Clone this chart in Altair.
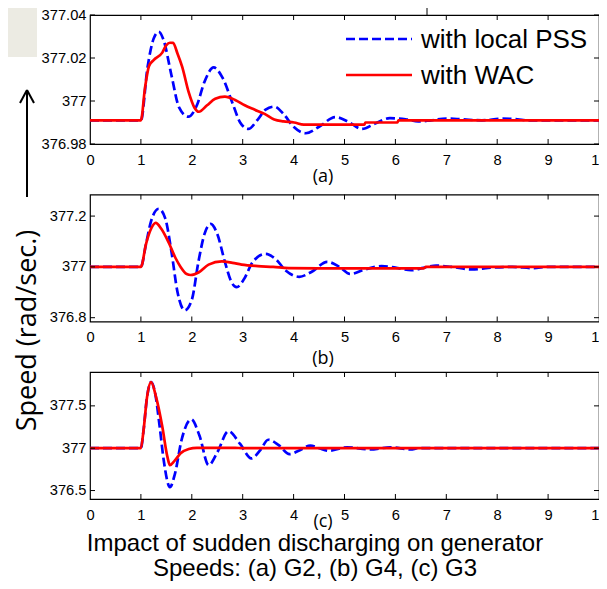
import altair as alt
import pandas as pd

# ---------------- data ----------------
SERIES = ["with local PSS", "with WAC"]
PANEL_LABELS = ["(a)", "(b)", "(c)"]
X_TICKS = [0, 1, 2, 3, 4, 5, 6, 7, 8, 9, 10]

# Panel (a)  G2
t_a_pss = [0, 1.0, 1.13, 1.25, 1.35, 1.45, 1.6, 1.75, 1.93, 2.1, 2.25, 2.43, 2.6, 2.8, 2.95, 3.11,
           3.3, 3.45, 3.62, 3.8, 4.0, 4.24, 4.5, 4.82, 5.1, 5.34, 5.6, 5.89, 6.2, 6.45, 6.7, 7.0,
           7.3, 7.7, 8.1, 8.4, 8.6, 10]
v_a_pss = [376.991, 376.991, 377.0156, 377.029, 377.0322, 377.028, 377.012, 376.997, 376.9927,
           376.998, 377.009, 377.0156, 377.011, 376.999, 376.990, 376.987, 376.9915, 376.996,
           376.9974, 376.994, 376.988, 376.985, 376.988, 376.9925, 376.990, 376.987, 376.9895,
           376.992, 376.9915, 376.9905, 376.991, 376.9918, 376.9915, 376.991, 376.9918, 376.9915,
           376.991, 376.991]
t_a_wac = [0, 1.0, 1.08, 1.16, 1.25, 1.42, 1.5, 1.57, 1.63, 1.72, 1.81, 1.94, 2.05, 2.14, 2.3, 2.46,
           2.65, 2.85, 3.04, 3.23, 3.43, 3.62, 3.8, 4.01, 4.2, 5.39, 5.41, 6.04, 6.06, 10]
v_a_wac = [376.991, 376.991, 377.006, 377.0163, 377.019, 377.0225, 377.026, 377.0271, 377.027,
           377.022, 377.016, 377.004, 376.997, 376.995, 376.998, 377.001, 377.002, 377.0005,
           376.998, 376.996, 376.994, 376.9914, 376.9905, 376.990, 376.989, 376.989, 376.990,
           376.990, 376.991, 376.991]

# Panel (b)  G4
t_b_pss = [0, 1, 1.1, 1.2, 1.35, 1.48, 1.6, 1.72, 1.86, 2.0, 2.13, 2.25, 2.37, 2.5, 2.65, 2.78, 2.88,
           3.02, 3.2, 3.45, 3.65, 3.85, 4.11, 4.35, 4.66, 4.9, 5.11, 5.4, 5.73, 6.0, 6.31, 6.55, 6.8,
           7.1, 7.5, 7.9, 8.3, 8.7, 9.0, 10]
v_b_pss = [377, 377, 377.09, 377.18, 377.229, 377.19, 377.06, 376.90, 376.829, 376.87, 377.02,
           377.13, 377.169, 377.13, 377.02, 376.94, 376.92, 376.95, 377.02, 377.051, 377.03, 376.985,
           376.961, 376.98, 377.02, 377.0, 376.972, 376.99, 377.003, 376.997, 376.987, 376.996,
           377.005, 377.0, 376.99, 376.997, 377.0, 376.995, 377.0, 377.0]
t_b_wac = [0, 1, 1.1, 1.2, 1.29, 1.4, 1.55, 1.68, 1.78, 1.9, 1.98, 2.14, 2.33, 2.59, 2.8, 2.98, 3.3,
           3.6, 3.9, 4.5, 6.55, 6.6, 10]
v_b_wac = [377, 377, 377.09, 377.15, 377.173, 377.15, 377.094, 377.035, 377.0, 376.972, 376.968,
           376.979, 377.009, 377.022, 377.016, 377.009, 377.003, 377.0, 376.995, 376.994, 376.994,
           377.0, 377.0]

# Panel (c)  G3
t_c_pss = [0, 1, 1.05, 1.12, 1.2, 1.28, 1.37, 1.45, 1.57, 1.67, 1.8, 1.99, 2.15, 2.33, 2.5, 2.72,
           2.95, 3.17, 3.35, 3.5, 3.7, 3.92, 4.1, 4.33, 4.5, 4.69, 5.05, 5.5, 5.9, 6.3, 6.45, 10]
v_c_pss = [377, 377, 377.2, 377.6, 377.78, 377.65, 377.25, 376.85, 376.54, 376.7, 377.1, 377.34,
           377.15, 376.80, 376.95, 377.20, 377.05, 376.88, 376.98, 377.10, 377.04, 376.93, 376.97,
           377.03, 377.0, 376.97, 377.01, 376.985, 377.01, 376.985, 377.0, 377.0]
t_c_wac = [0, 1, 1.05, 1.12, 1.2, 1.3, 1.42, 1.52, 1.57, 1.66, 1.78, 1.94, 2.1, 2.85, 3.0, 10]
v_c_wac = [377, 377, 377.2, 377.6, 377.78, 377.6, 377.255, 376.90, 376.80, 376.85, 376.94, 376.99,
           377.005, 377.005, 377.0, 377.0]

W = 509
BLUE = "#0000ff"
RED = "#ff0000"
TICK_FONT = "Liberation Sans"


def panel(tp, vp, tw, vw, ydom, yvals, yfmt, h, label, label_y, extras):
    xs = alt.Scale(domain=[0, 10], nice=False, zero=False)
    ys = alt.Scale(domain=ydom, nice=False, zero=False)
    x_ax = alt.Axis(values=X_TICKS, ticks=False, domain=False, grid=False, title=None,
                    labelFont=TICK_FONT, labelFontSize=14.7, labelPadding=8,
                    labelColor="black", labelFlush=False)
    y_ax = alt.Axis(values=yvals, format=yfmt, ticks=False, domain=False, grid=False, title=None,
                    labelFont=TICK_FONT, labelFontSize=14.7, labelPadding=4,
                    labelColor="black", labelFlush=False)
    df_p = pd.DataFrame({"t": tp, "v": vp, "s": SERIES[0]})
    df_w = pd.DataFrame({"t": tw, "v": vw, "s": SERIES[1]})

    pss = alt.Chart(df_p).mark_line(color=BLUE, strokeWidth=2.7, strokeDash=[9, 4],
                                    interpolate="monotone").encode(
        x=alt.X("t:Q", scale=xs, axis=x_ax), y=alt.Y("v:Q", scale=ys, axis=y_ax))
    wac = alt.Chart(df_w).mark_line(color=RED, strokeWidth=2.7,
                                    interpolate="monotone").encode(
        x=alt.X("t:Q"), y=alt.Y("v:Q"))

    xt = alt.Chart(pd.DataFrame({"t": X_TICKS[1:-1]}))
    xb = xt.mark_rule(color="black", strokeWidth=1).encode(
        x="t:Q", y=alt.value(h), y2=alt.value(h - 5))
    xtop = xt.mark_rule(color="black", strokeWidth=1).encode(
        x="t:Q", y=alt.value(0), y2=alt.value(5))
    yt = alt.Chart(pd.DataFrame({"v": yvals}))
    yl = yt.mark_rule(color="black", strokeWidth=1).encode(
        y="v:Q", x=alt.value(0), x2=alt.value(5))
    yr = yt.mark_rule(color="black", strokeWidth=1).encode(
        y="v:Q", x=alt.value(W - 5), x2=alt.value(W))

    lab = alt.Chart(pd.DataFrame({"s": [label]})).mark_text(
        font="Open Sans", fontSize=18, color="black", align="center", baseline="middle").encode(
        text="s:N", x=alt.value(233), y=alt.value(label_y))

    return alt.layer(pss, wac, xb, xtop, yl, yr, lab, *extras).properties(width=W, height=h)


one = pd.DataFrame({"k": [0]})

# decorations of panel (a): grey corner, up arrow, legend
grey = alt.Chart(one).mark_rect(color="#ecebe3").encode(
    x=alt.value(-82), x2=alt.value(-53), y=alt.value(-7), y2=alt.value(42))
arrow_shaft = alt.Chart(one).mark_rule(color="black", strokeWidth=2).encode(
    x=alt.value(-63), x2=alt.value(-63), y=alt.value(76), y2=alt.value(182))
arrow_l = alt.Chart(one).mark_rule(color="black", strokeWidth=2).encode(
    x=alt.value(-63), x2=alt.value(-70), y=alt.value(75), y2=alt.value(88))
arrow_r = alt.Chart(one).mark_rule(color="black", strokeWidth=2).encode(
    x=alt.value(-63), x2=alt.value(-56), y=alt.value(75), y2=alt.value(88))
legbox = alt.Chart(one).mark_rule(color="black", strokeWidth=1).encode(
    x=alt.value(337), x2=alt.value(337), y=alt.value(-7), y2=alt.value(0))

leg_df = pd.DataFrame({"s": SERIES})
leg_pss_line = alt.Chart(leg_df).transform_filter(alt.datum.s == SERIES[0]).mark_rule(
    color=BLUE, strokeWidth=2.7, strokeDash=[9, 4]).encode(
    x=alt.value(256), x2=alt.value(322), y=alt.value(24))
leg_wac_line = alt.Chart(leg_df).transform_filter(alt.datum.s == SERIES[1]).mark_rule(
    color=RED, strokeWidth=2.7).encode(
    x=alt.value(256), x2=alt.value(322), y=alt.value(60))
leg_pss_txt = alt.Chart(leg_df).transform_filter(alt.datum.s == SERIES[0]).mark_text(
    font="Liberation Sans", fontSize=26, align="left", baseline="middle", color="black").encode(
    text="s:N", x=alt.value(331), y=alt.value(25))
leg_wac_txt = alt.Chart(leg_df).transform_filter(alt.datum.s == SERIES[1]).mark_text(
    font="Liberation Sans", fontSize=26, align="left", baseline="middle", color="black").encode(
    text="s:N", x=alt.value(331), y=alt.value(61))

# y-axis title (panel b)
ytitle = alt.Chart(pd.DataFrame({"s": ["Speed (rad/sec.)"]})).mark_text(
    font="Open Sans", fontSize=27, angle=270, align="center", baseline="middle",
    color="black").encode(text="s:N", x=alt.value(-62), y=alt.value(136))

# caption (panel c)
CAPTION = ["Impact of sudden discharging on generator", "Speeds: (a) G2, (b) G4, (c) G3"]
cap1 = alt.Chart(pd.DataFrame({"s": [CAPTION[0]]})).mark_text(
    font="Liberation Sans", fontSize=24, align="center", baseline="alphabetic",
    color="black").encode(text="s:N", x=alt.value(225), y=alt.value(179))
cap2 = alt.Chart(pd.DataFrame({"s": [CAPTION[1]]})).mark_text(
    font="Liberation Sans", fontSize=24, align="center", baseline="alphabetic",
    color="black").encode(text="s:N", x=alt.value(225), y=alt.value(204))

pa = panel(t_a_pss, v_a_pss, t_a_wac, v_a_wac, [376.98, 377.04],
           [376.98, 377.0, 377.02, 377.04], ".5~r", 129, PANEL_LABELS[0], 162,
           [grey, arrow_shaft, arrow_l, arrow_r, legbox,
            leg_pss_line, leg_wac_line, leg_pss_txt, leg_wac_txt])
pb = panel(t_b_pss, v_b_pss, t_b_wac, v_b_wac, [376.785, 377.285],
           [376.8, 377.0, 377.2], ".4~r", 127, PANEL_LABELS[1], 164, [ytitle])
pc = panel(t_c_pss, v_c_pss, t_c_wac, v_c_wac, [376.4, 377.9],
           [376.5, 377.0, 377.5], ".4~r", 127, PANEL_LABELS[2], 150, [cap1, cap2])

chart = alt.vconcat(pa, pb, pc, spacing=50.5, bounds="flush").properties(
    autosize=alt.AutoSizeParams(type="none"),
    padding={"left": 82, "top": 7, "right": 0, "bottom": 566},
    background="white",
).configure_view(stroke="black", strokeWidth=1.2)

chart.save("out.html", embed_options={"renderer": "svg", "actions": False})
